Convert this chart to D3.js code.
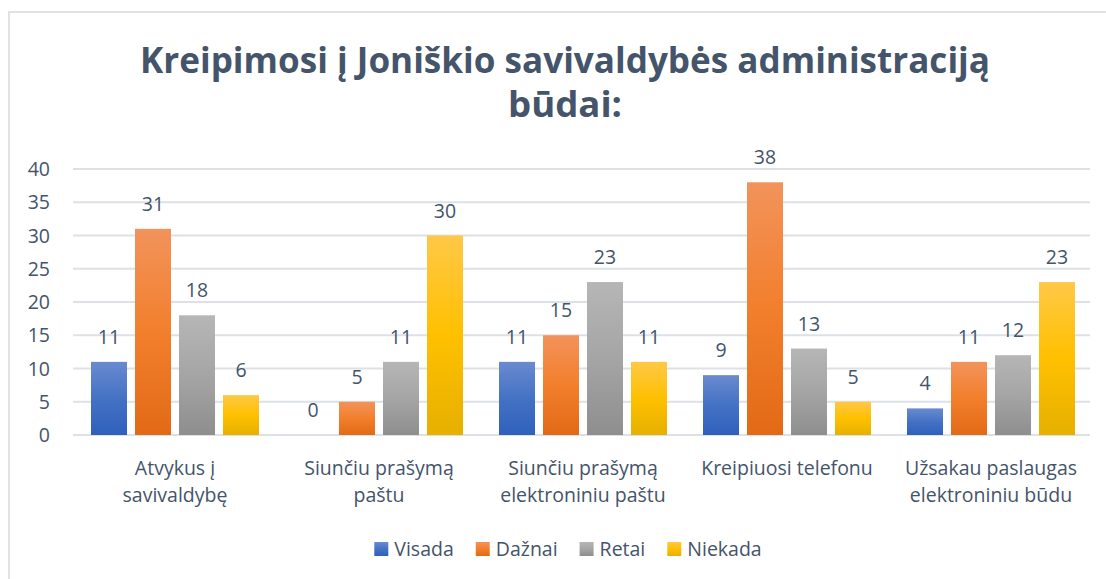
<!DOCTYPE html>
<html>
<head>
<meta charset="utf-8">
<script src="https://cdn.jsdelivr.net/npm/d3@7"></script>
<style>
  body { margin: 0; background: #fff; }
  text { font-family: "Open Sans", sans-serif; fill: #44546a; }
</style>
</head>
<body>
<svg id="chart" width="1106" height="579"></svg>
<script>
// data
var categories = ["Atvykus į\nsavivaldybę", "Siunčiu prašymą\npaštu", "Siunčiu prašymą\nelektroniniu paštu", "Kreipiuosi telefonu", "Užsakau paslaugas\nelektroniniu būdu"];
var series = ["Visada", "Dažnai", "Retai", "Niekada"];
var visada = [11, 0, 11, 9, 4];
var daznai = [31, 5, 15, 38, 11];
var retai = [18, 11, 23, 13, 12];
var niekada = [6, 30, 11, 5, 23];
var yTicks = [0, 5, 10, 15, 20, 25, 30, 35, 40];

var values = [visada, daznai, retai, niekada];
// gradient stops: top, middle, bottom
var colors = [
  ["#6a8ad0", "#4472c4", "#2f60bc"],
  ["#f2935b", "#f27f2c", "#e26a16"],
  ["#b6b6b6", "#a5a5a5", "#8e8e8e"],
  ["#ffc847", "#ffc000", "#e6b000"]
];

var svg = d3.select("#chart");

// frame
svg.append("rect")
  .attr("x", 9).attr("y", 12)
  .attr("width", 1110).attr("height", 600)
  .attr("fill", "none").attr("stroke", "#dfe3e8").attr("stroke-width", 2);

var defs = svg.append("defs");
colors.forEach(function(c, i) {
  var g = defs.append("linearGradient")
    .attr("id", "grad" + i)
    .attr("x1", 0).attr("y1", 0).attr("x2", 0).attr("y2", 1);
  g.append("stop").attr("offset", "0%").attr("stop-color", c[0]);
  g.append("stop").attr("offset", "50%").attr("stop-color", c[1]);
  g.append("stop").attr("offset", "100%").attr("stop-color", c[2]);
});

// title
var title = svg.append("text")
  .attr("text-anchor", "middle")
  .style("font-weight", "bold")
  .style("font-size", "35px");
title.append("tspan").attr("x", 565).attr("y", 73)
  .attr("textLength", 850).attr("lengthAdjust", "spacingAndGlyphs")
  .text("Kreipimosi į Joniškio savivaldybės administraciją");
title.append("tspan").attr("x", 565).attr("y", 117)
  .attr("textLength", 114).attr("lengthAdjust", "spacingAndGlyphs")
  .text("būdai:");

var x = d3.scaleBand().domain(d3.range(categories.length)).range([73, 1093]);
var xs = d3.scaleBand().domain(d3.range(series.length)).range([18, 186]).paddingInner(8 / 44);
var y = d3.scaleLinear().domain([0, 40]).range([435, 169]);

// gridlines
svg.append("g").selectAll("line").data(yTicks).join("line")
  .attr("x1", 73).attr("x2", 1090)
  .attr("y1", function(d) { return y(d); }).attr("y2", function(d) { return y(d); })
  .attr("stroke", "#dde1e6").attr("stroke-width", 2);

// y axis labels
svg.append("g").selectAll("text").data(yTicks).join("text")
  .attr("x", 50).attr("y", function(d) { return y(d); })
  .attr("dy", "0.36em")
  .attr("text-anchor", "end")
  .style("font-size", "19.5px")
  .text(function(d) { return d; });

// bars
var groups = svg.append("g").selectAll("g").data(categories).join("g")
  .attr("transform", function(d, i) { return "translate(" + x(i) + ",0)"; });

groups.each(function(cat, ci) {
  var g = d3.select(this);
  series.forEach(function(s, si) {
    var v = values[si][ci];
    g.append("rect")
      .attr("x", xs(si)).attr("width", xs.bandwidth())
      .attr("y", y(v)).attr("height", y(0) - y(v))
      .attr("fill", "url(#grad" + si + ")");
    g.append("text")
      .attr("x", xs(si) + xs.bandwidth() / 2)
      .attr("y", y(v) - 18)
      .attr("text-anchor", "middle")
      .style("font-size", "19.5px")
      .text(v);
  });
  var lab = g.append("text").attr("text-anchor", "middle").style("font-size", "19.5px");
  cat.split("\n").forEach(function(line, li) {
    lab.append("tspan").attr("x", x.bandwidth() / 2).attr("y", 475 + li * 27).text(line);
  });
});

// legend
var legend = svg.append("g");
var lx = 0;
series.forEach(function(s, i) {
  var it = legend.append("g").attr("transform", "translate(" + lx + ",0)");
  it.append("rect").attr("x", 0).attr("y", 542).attr("width", 14).attr("height", 14)
    .attr("fill", "url(#grad" + i + ")");
  var t = it.append("text").attr("x", 20).attr("y", 556).style("font-size", "19.5px").text(s);
  lx += 20 + t.node().getComputedTextLength() + 22;
});
var legendWidth = lx - 22;
legend.attr("transform", "translate(" + (568 - legendWidth / 2) + ",0)");
</script>
</body>
</html>
